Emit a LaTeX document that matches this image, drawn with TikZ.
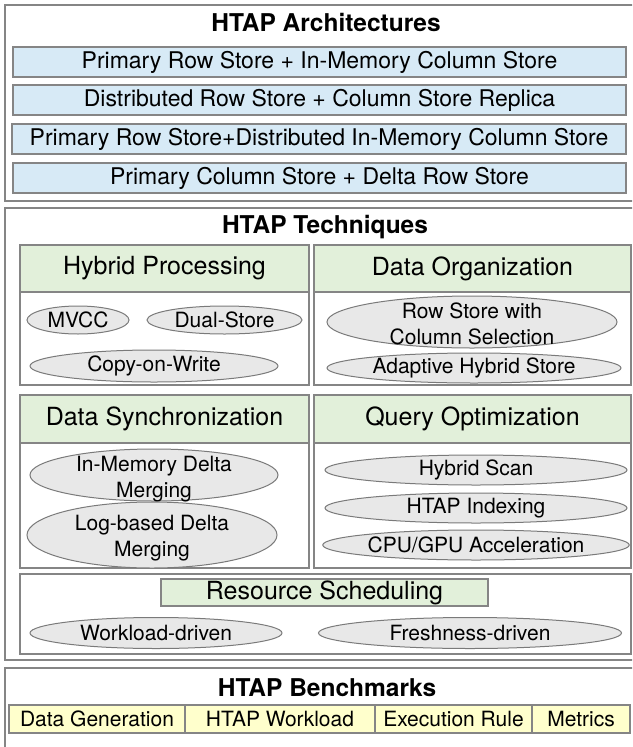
\documentclass[tikz,border=0pt]{standalone}
\usepackage{fontspec}
\setmainfont{TeX Gyre Heros}
\usetikzlibrary{shapes.geometric}
\definecolor{bordergray}{HTML}{858585}
\definecolor{ellgray}{HTML}{7A7A7A}
\definecolor{blueF}{HTML}{D7EAF6}
\definecolor{greenF}{HTML}{E2F0DA}
\definecolor{ellF}{HTML}{E8E8E8}
\definecolor{yelF}{HTML}{FFFFCC}
\begin{document}
\begin{tikzpicture}[x=1pt,y=-1pt,
  frame/.style={draw=bordergray, line width=1.6pt, rectangle, inner sep=0pt},
  outerbox/.style={frame, fill=white},
  contentbox/.style={frame, fill=white},
  titletext/.style={inner sep=0pt, font=\fontsize{24.5}{28}\selectfont\bfseries},
  bluebox/.style={frame, fill=blueF, font=\fontsize{23}{27}\selectfont},
  headbox/.style={frame, fill=greenF, font=\fontsize{25}{29}\selectfont},
  yelbox/.style={frame, fill=yelF, font=\fontsize{21}{25}\selectfont},
  ell/.style={ellipse, draw=ellgray, line width=1pt, fill=ellF, inner sep=0pt, font=\fontsize{21}{25}\selectfont},
  etext/.style={inner sep=0pt, align=center, font=\fontsize{21}{26}\selectfont}
]
\useasboundingbox (0,0) rectangle (632,747);
\clip (0,0) rectangle (632,747);

% outer frames
\node[outerbox, minimum width=640, minimum height=196] (arch) at (325,103) {};
\node[outerbox, minimum width=640, minimum height=452] (tech) at (325,434) {};
\node[outerbox, minimum width=640, minimum height=100] (bench) at (325,718) {};

% titles
\node[titletext] (t1) at (326,22) {HTAP Architectures};
\node[titletext] (t2) at (325,227) {HTAP Techniques};
\node[titletext] (t3) at (327,688) {HTAP Benchmarks};

% architectures
\node[bluebox, minimum width=613, minimum height=30] (a1) at (319.5,62) {Primary Row Store + In-Memory Column Store};
\node[bluebox, minimum width=613, minimum height=30] (a2) at (319.5,100) {Distributed Row Store + Column Store Replica};
\node[bluebox, minimum width=614, minimum height=30] (a3) at (319,139) {Primary Row Store+Distributed In-Memory Column Store};
\node[bluebox, minimum width=613, minimum height=30] (a4) at (319.5,178) {Primary Column Store + Delta Row Store};

% techniques: content boxes
\node[contentbox, minimum width=289, minimum height=93] (c1) at (164.5,338.5) {};
\node[contentbox, minimum width=317, minimum height=93] (c2) at (472.5,338.5) {};
\node[contentbox, minimum width=289, minimum height=125] (c3) at (164.5,505.5) {};
\node[contentbox, minimum width=317, minimum height=125] (c4) at (472.5,505.5) {};
\node[contentbox, minimum width=611, minimum height=80] (c5) at (325.5,614) {};

% headers
\node[headbox, minimum width=289, minimum height=47] (h1) at (164.5,268.5) {Hybrid Processing};
\node[headbox, minimum width=317, minimum height=47] (h2) at (472.5,268.5) {Data Organization};
\node[headbox, minimum width=289, minimum height=48] (h3) at (164.5,419) {Data Synchronization};
\node[headbox, minimum width=317, minimum height=48] (h4) at (472.5,419) {Query Optimization};
\node[headbox, minimum width=327, minimum height=27] (h5) at (324.5,592.5) {Resource Scheduling};

% ellipses
\node[ell, minimum width=102, minimum height=28] (e1) at (78,320) {MVCC};
\node[ell, minimum width=155, minimum height=28] (e2) at (224.5,320) {Dual-Store};
\node[ell, minimum width=248, minimum height=32] (e3) at (154,366) {Copy-on-Write};
\node[ell, minimum width=290, minimum height=52] (e4) at (472,322) {};
\node[etext] (e4t) at (472,324) {Row Store with\\Column Selection};
\node[ell, minimum width=294, minimum height=30] (e5) at (474,368) {Adaptive Hybrid Store};
\node[ell, minimum width=248, minimum height=52] (e6) at (154,475) {};
\node[etext] (e6t) at (154,479) {In-Memory Delta\\Merging};
\node[ell, minimum width=250, minimum height=66] (e7) at (152,535) {};
\node[etext] (e7t) at (152,538) {Log-based Delta\\Merging};
\node[ell, minimum width=302, minimum height=30] (e8) at (476,470) {Hybrid Scan};
\node[ell, minimum width=302, minimum height=30] (e9) at (476,508) {HTAP Indexing};
\node[ell, minimum width=302, minimum height=30] (e10) at (476,545) {CPU/GPU Acceleration};
\node[ell, minimum width=252, minimum height=31] (e11) at (156,633) {Workload-driven};
\node[ell, minimum width=303, minimum height=31] (e12) at (470,633) {Freshness-driven};

% benchmarks
\node[yelbox, minimum width=176, minimum height=28] (b1) at (97,719) {Data Generation};
\node[yelbox, minimum width=190, minimum height=28] (b2) at (280,719) {HTAP Workload};
\node[yelbox, minimum width=157, minimum height=28] (b3) at (453.5,719) {Execution Rule};
\node[yelbox, minimum width=98, minimum height=28] (b4) at (581,719) {Metrics};
\end{tikzpicture}
\end{document}
